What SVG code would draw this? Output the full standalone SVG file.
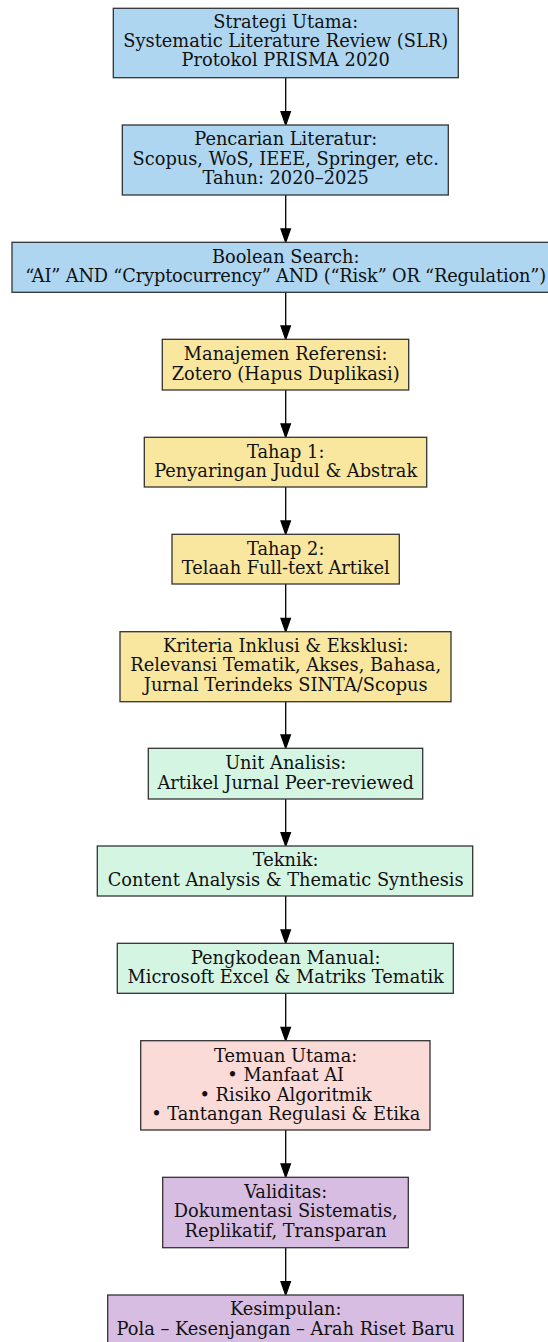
<svg xmlns="http://www.w3.org/2000/svg" width="548" height="1342" viewBox="0 0 548 1342">
<style>
rect{stroke:#333;stroke-width:1.3}
text{font-family:"DejaVu Serif",serif;font-size:17.8px;fill:#111;text-anchor:middle}
.b{fill:#AED6F1}.y{fill:#F9E79F}.g{fill:#D5F5E3}.p{fill:#FADBD8}.v{fill:#D7BDE2}
#edges line{stroke:#000;stroke-width:1.3}
#edges polygon{fill:#000;stroke:#000;stroke-width:1.3}
</style>
<rect width="548" height="1342" fill="#fff" style="stroke:none"/>
<g id="edges">
<line x1="285.7" y1="77.7" x2="285.7" y2="111.7"/><polygon points="281,111.7 290.4,111.7 285.7,125"/>
<line x1="285.7" y1="195" x2="285.7" y2="229"/><polygon points="281,229 290.4,229 285.7,242.3"/>
<line x1="285.7" y1="292.3" x2="285.7" y2="326"/><polygon points="281,326 290.4,326 285.7,339.3"/>
<line x1="285.7" y1="390" x2="285.7" y2="424"/><polygon points="281,424 290.4,424 285.7,437.3"/>
<line x1="285.7" y1="487" x2="285.7" y2="521"/><polygon points="281,521 290.4,521 285.7,534.3"/>
<line x1="285.7" y1="584" x2="285.7" y2="618.4"/><polygon points="281,618.4 290.4,618.4 285.7,631.7"/>
<line x1="285.7" y1="701.7" x2="285.7" y2="735"/><polygon points="281,735 290.4,735 285.7,748.3"/>
<line x1="285.7" y1="799" x2="285.7" y2="832.7"/><polygon points="281,832.7 290.4,832.7 285.7,846"/>
<line x1="285.7" y1="896" x2="285.7" y2="930"/><polygon points="281,930 290.4,930 285.7,943.3"/>
<line x1="285.7" y1="993.3" x2="285.7" y2="1027.4"/><polygon points="281,1027.4 290.4,1027.4 285.7,1040.7"/>
<line x1="285.7" y1="1130" x2="285.7" y2="1164"/><polygon points="281,1164 290.4,1164 285.7,1177.3"/>
<line x1="285.7" y1="1247.7" x2="285.7" y2="1281.7"/><polygon points="281,1281.7 290.4,1281.7 285.7,1295"/>
</g>
<g id="n1"><rect class="b" x="113.3" y="8.3" width="345" height="69.4"/>
<text x="285.7" y="28">Strategi Utama:</text><text x="285.7" y="47.2">Systematic Literature Review (SLR)</text><text x="285.7" y="66.4">Protokol PRISMA 2020</text></g>
<g id="n2"><rect class="b" x="122.3" y="125" width="326" height="70"/>
<text x="285.7" y="145">Pencarian Literatur:</text><text x="285.7" y="164.5">Scopus, WoS, IEEE, Springer, etc.</text><text x="285.7" y="184">Tahun: 2020–2025</text></g>
<g id="n3"><rect class="b" x="12" y="242.3" width="547.4" height="50"/>
<text x="285.7" y="262.5">Boolean Search:</text><text x="285.7" y="282" textLength="521" lengthAdjust="spacing">“AI” AND “Cryptocurrency” AND (“Risk” OR “Regulation”)</text></g>
<g id="n4"><rect class="y" x="162.3" y="339.3" width="246.4" height="50.7"/>
<text x="285.7" y="360">Manajemen Referensi:</text><text x="285.7" y="379.5">Zotero (Hapus Duplikasi)</text></g>
<g id="n5"><rect class="y" x="144.3" y="437.3" width="282.4" height="49.7"/>
<text x="285.7" y="457.5">Tahap 1:</text><text x="285.7" y="477">Penyaringan Judul &amp; Abstrak</text></g>
<g id="n6"><rect class="y" x="172" y="534.3" width="227.3" height="49.7"/>
<text x="285.7" y="554.5">Tahap 2:</text><text x="285.7" y="574">Telaah Full-text Artikel</text></g>
<g id="n7"><rect class="y" x="120" y="631.7" width="331" height="70"/>
<text x="285.7" y="651.7">Kriteria Inklusi &amp; Eksklusi:</text><text x="285.7" y="671.2">Relevansi Tematik, Akses, Bahasa,</text><text x="285.7" y="690.7">Jurnal Terindeks SINTA/Scopus</text></g>
<g id="n8"><rect class="g" x="148.3" y="748.3" width="274.4" height="50.7"/>
<text x="285.7" y="769">Unit Analisis:</text><text x="285.7" y="788.5">Artikel Jurnal Peer-reviewed</text></g>
<g id="n9"><rect class="g" x="97.3" y="846" width="375.4" height="50"/>
<text x="285.7" y="866.2">Teknik:</text><text x="285.7" y="885.7">Content Analysis &amp; Thematic Synthesis</text></g>
<g id="n10"><rect class="g" x="117.3" y="943.3" width="336" height="50"/>
<text x="285.7" y="963.5">Pengkodean Manual:</text><text x="285.7" y="983">Microsoft Excel &amp; Matriks Tematik</text></g>
<g id="n11"><rect class="p" x="140.7" y="1040.7" width="289.3" height="89.3"/>
<text x="285.7" y="1061.5">Temuan Utama:</text><text x="285.7" y="1081">• Manfaat AI</text><text x="285.7" y="1100.5">• Risiko Algoritmik</text><text x="285.7" y="1120">• Tantangan Regulasi &amp; Etika</text></g>
<g id="n12"><rect class="v" x="162.7" y="1177.3" width="245.6" height="70.4"/>
<text x="285.7" y="1197.5">Validitas:</text><text x="285.7" y="1217">Dokumentasi Sistematis,</text><text x="285.7" y="1236.5">Replikatif, Transparan</text></g>
<g id="n13"><rect class="v" x="107.7" y="1295" width="355.6" height="50"/>
<text x="285.7" y="1315">Kesimpulan:</text><text x="285.7" y="1334.5">Pola – Kesenjangan – Arah Riset Baru</text></g>
</svg>
